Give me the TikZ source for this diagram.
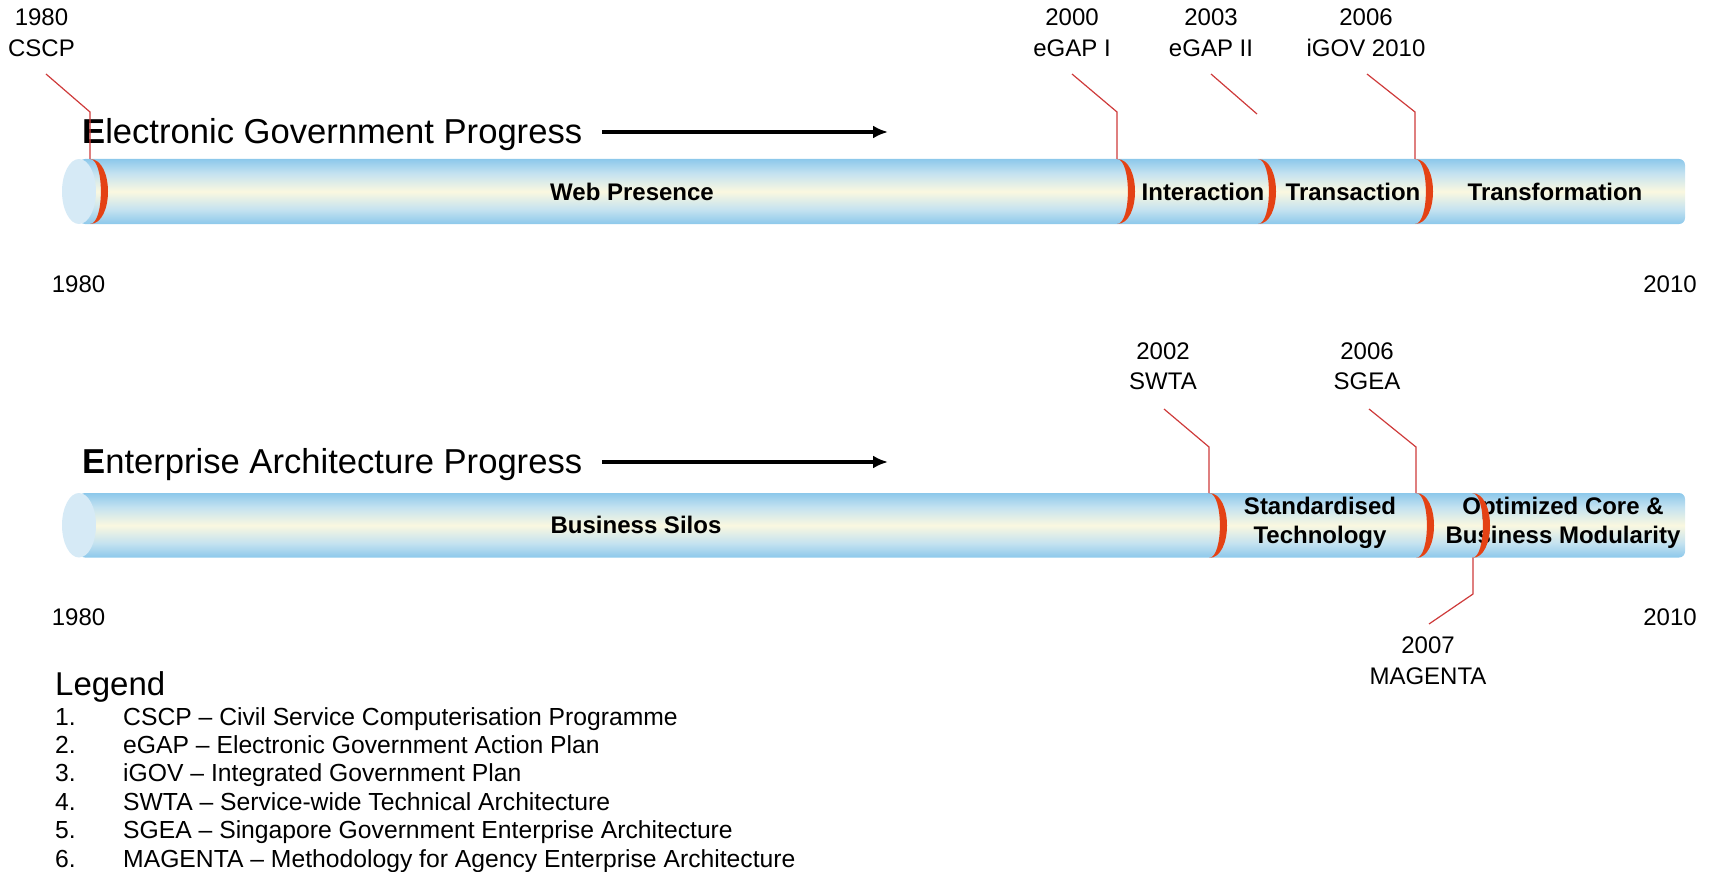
\documentclass[tikz,border=0pt]{standalone}
\usepackage{fontspec}
\setmainfont{Liberation Sans}
\usetikzlibrary{arrows.meta}

\definecolor{tubeblue}{RGB}{140,200,235}
\definecolor{tubemid}{RGB}{196,226,240}
\definecolor{tubecream}{RGB}{250,248,224}
\definecolor{capblue}{RGB}{214,234,246}
\definecolor{ringred}{RGB}{228,66,20}
\definecolor{leaderred}{RGB}{206,58,58}

% pale tube: blue rims, cream core
\pgfdeclareverticalshading{tube}{100bp}{color(0bp)=(tubeblue); color(25bp)=(tubeblue);
  color(36bp)=(tubemid); color(50bp)=(tubecream); color(64bp)=(tubemid);
  color(75bp)=(tubeblue); color(100bp)=(tubeblue)}

\tikzset{
  tubebody/.style={shading=tube, draw=none, rounded corners=6pt},
  tubecap/.style={fill=capblue, draw=none},
  ring/.pic={\fill[ringred] (0,0) .. controls (24,0) and (24,65) .. (0,65)
             .. controls (14.5,65) and (14.5,0) .. (0,0) -- cycle;},
  leader/.style={draw=leaderred, line width=1.2pt},
  milestone/.style={font=\fontsize{24}{30.5}\selectfont, align=center, inner sep=0, anchor=north},
  seglabel/.style={font=\fontsize{24}{28.5}\selectfont\bfseries, align=center, inner sep=0},
  yearlabel/.style={font=\fontsize{24}{28}\selectfont, inner sep=0},
  rowtitle/.style={font=\fontsize{34.6}{40}\selectfont, inner sep=0, anchor=base west},
  progress/.style={line width=4pt, -{Latex[length=15pt,width=13pt]}},
  legendhead/.style={font=\fontsize{33}{38}\selectfont, inner sep=0, anchor=base west},
  legenditem/.style={font=\fontsize{24.7}{28}\selectfont, inner sep=0, anchor=base west},
}

\begin{document}
\begin{tikzpicture}[x=1pt,y=-1pt]
\useasboundingbox (0,0) rectangle (1711,872);

% ---------------- Electronic Government Progress ----------------
\node[rowtitle] (egtitle) at (82,143) {\textbf{E}lectronic Government Progress};
\coordinate (egarrowA) at (602,132);
\coordinate (egarrowB) at (888,132);
\draw[progress] (egarrowA) -- (egarrowB);

\path[tubebody] (79,159) rectangle (1685,224);
\fill[tubecap] (79,191.5) ellipse [x radius=17pt, y radius=32.5pt];

\node[seglabel] (web) at (632,191.5) {Web Presence};
\node[seglabel] (interaction) at (1203,191.5) {Interaction};
\node[seglabel] (transaction) at (1353,191.5) {Transaction};
\node[seglabel] (transformation) at (1555,191.5) {Transformation};

\pic at (90,159) {ring};
\pic at (1117,159) {ring};
\pic at (1258,159) {ring};
\pic at (1415,159) {ring};

\coordinate (ringCSCP) at (90,159);
\coordinate (ringEGAPone) at (1117,159);
\coordinate (ringIGOV) at (1415,159);

\node[milestone] (cscp) at (41.5,9) {1980\\CSCP};
\node[milestone] (egapone) at (1072,9) {2000\\eGAP I};
\node[milestone] (egaptwo) at (1211,9) {2003\\eGAP II};
\node[milestone] (igov) at (1366,9) {2006\\iGOV 2010};

\coordinate (cscpA) at (46,74);   \coordinate (cscpB) at (90,112);
\coordinate (egoneA) at (1072,74); \coordinate (egoneB) at (1117,112);
\coordinate (egtwoA) at (1211,74); \coordinate (egtwoB) at (1257,114);
\coordinate (igovA) at (1367,74);  \coordinate (igovB) at (1415,112);
\draw[leader] (cscpA) -- (cscpB) -- (ringCSCP);
\draw[leader] (egoneA) -- (egoneB) -- (ringEGAPone);
\draw[leader] (egtwoA) -- (egtwoB);
\draw[leader] (igovA) -- (igovB) -- (ringIGOV);

\node[yearlabel] (egstart) at (78.6,284) {1980};
\node[yearlabel] (egend) at (1670,284) {2010};

% ---------------- Enterprise Architecture Progress ----------------
\node[rowtitle] (eatitle) at (82,473) {\textbf{E}nterprise Architecture Progress};
\coordinate (eaarrowA) at (602,462);
\coordinate (eaarrowB) at (888,462);
\draw[progress] (eaarrowA) -- (eaarrowB);

\path[tubebody] (79,493) rectangle (1685,557.5);
\fill[tubecap] (79,525.25) ellipse [x radius=17pt, y radius=32.25pt];

\node[seglabel] (silos) at (636,525) {Business Silos};
\node[seglabel] (standard) at (1320,523) {Standardised\\Technology};
\node[seglabel] (optimized) at (1563,523) {Optimized Core \&\\Business Modularity};

\pic at (1209,493) {ring};
\pic at (1416,493) {ring};
\pic at (1472,493) {ring};

\coordinate (ringSWTA) at (1209,493);
\coordinate (ringSGEA) at (1416,493);
\coordinate (ringMAGENTA) at (1473,557.5);

\node[milestone] (swta) at (1163,342.5) {2002\\SWTA};
\node[milestone] (sgea) at (1367,342.5) {2006\\SGEA};
\node[milestone] (magenta) at (1428,637) {2007\\MAGENTA};

\coordinate (swtaA) at (1164,409);  \coordinate (swtaB) at (1209,447);
\coordinate (sgeaA) at (1369,409);  \coordinate (sgeaB) at (1416,447);
\coordinate (magB) at (1473,594);   \coordinate (magA) at (1429,624);
\draw[leader] (swtaA) -- (swtaB) -- (ringSWTA);
\draw[leader] (sgeaA) -- (sgeaB) -- (ringSGEA);
\draw[leader] (ringMAGENTA) -- (magB) -- (magA);

\node[yearlabel] (eastart) at (78.6,617.6) {1980};
\node[yearlabel] (eaend) at (1670,617.6) {2010};

% ---------------- Legend ----------------
\node[legendhead] (legend) at (55,695) {Legend};
\foreach \n/\txt [count=\i from 0] in {
  1./CSCP – Civil Service Computerisation Programme,
  2./eGAP – Electronic Government Action Plan,
  3./iGOV – Integrated Government Plan,
  4./SWTA – Service-wide Technical Architecture,
  5./SGEA – Singapore Government Enterprise Architecture,
  6./MAGENTA – Methodology for Agency Enterprise Architecture} {
  \node[legenditem] (legnum\i) at (55,{725+28.4*\i}) {\n};
  \node[legenditem] (legtxt\i) at (123,{725+28.4*\i}) {\txt};
}
\end{tikzpicture}
\end{document}
